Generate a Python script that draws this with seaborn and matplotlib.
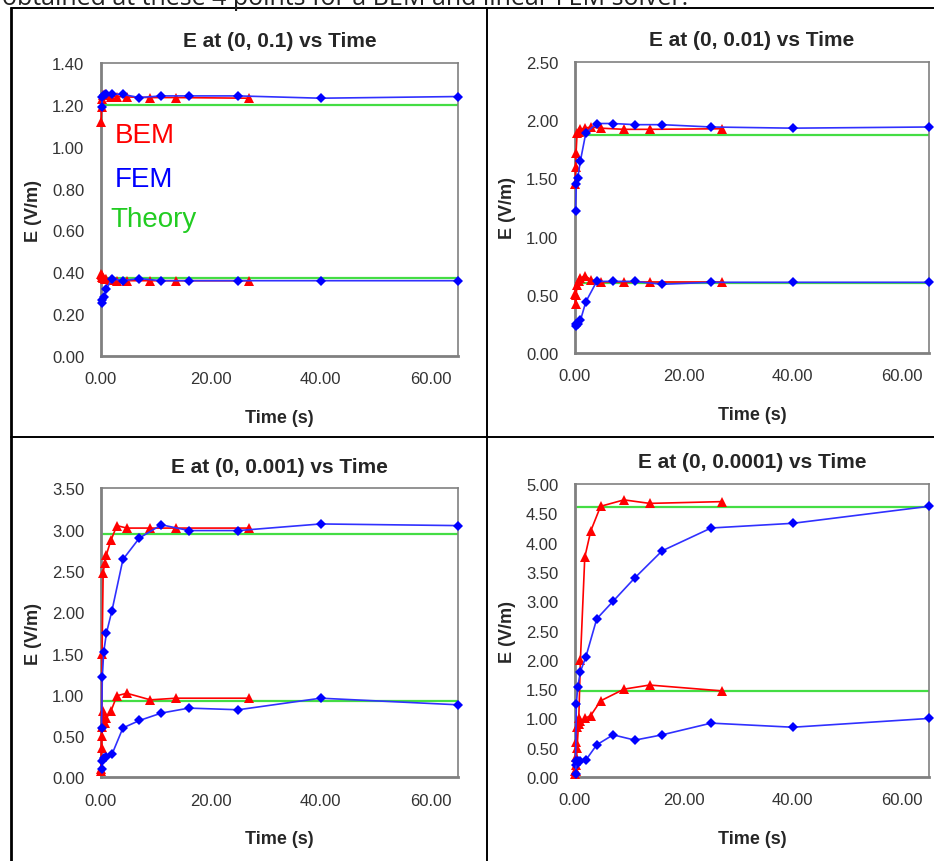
import pandas as pd
import matplotlib.pyplot as plt
import seaborn as sns
from matplotlib.lines import Line2D
from matplotlib.ticker import FormatStrFormatter, MultipleLocator

# sample times (s)
fem_t = [0.1, 0.25, 0.5, 1.0, 2.0, 4.0, 7.0, 11.0, 16.0, 25.0, 40.0, 65.0]
bem_t = [0.05, 0.1, 0.2, 0.4, 0.7, 1.0, 1.8, 2.9, 4.7, 9.0, 13.7, 27.0]
theory_t = [0.3, 65.0]

titles = ['E at (0, 0.1) vs Time', 'E at (0, 0.01) vs Time',
          'E at (0, 0.001) vs Time', 'E at (0, 0.0001) vs Time']
y_max = [1.4, 2.5, 3.5, 5.0]
y_step = [0.2, 0.5, 0.5, 0.5]

# point (0, 0.1)
fem_hi_1 = [1.19, 1.24, 1.245, 1.25, 1.252, 1.25, 1.235, 1.243, 1.243, 1.243, 1.232, 1.24]
fem_lo_1 = [0.255, 0.27, 0.28, 0.32, 0.37, 0.36, 0.37, 0.36, 0.36, 0.36, 0.36, 0.36]
bem_hi_1 = [1.12, 1.19, 1.23, 1.245, 1.25, 1.245, 1.24, 1.24, 1.238, 1.235, 1.235, 1.232]
bem_lo_1 = [0.39, 0.385, 0.38, 0.375, 0.37, 0.37, 0.365, 0.36, 0.36, 0.36, 0.36, 0.36]
theory_1 = [1.20, 0.375]

# point (0, 0.01)
fem_hi_2 = [1.22, 1.45, 1.50, 1.65, 1.89, 1.97, 1.97, 1.96, 1.96, 1.94, 1.93, 1.94]
fem_lo_2 = [0.23, 0.245, 0.25, 0.28, 0.44, 0.615, 0.615, 0.615, 0.59, 0.607, 0.607, 0.607]
bem_hi_2 = [1.45, 1.60, 1.72, 1.89, 1.90, 1.92, 1.93, 1.94, 1.93, 1.92, 1.92, 1.925]
bem_lo_2 = [0.51, 0.42, 0.50, 0.58, 0.62, 0.64, 0.665, 0.63, 0.61, 0.61, 0.61, 0.61]
theory_2 = [1.87, 0.60]

# point (0, 0.001)
fem_hi_3 = [0.6, 1.22, 1.52, 1.75, 2.02, 2.64, 2.9, 3.06, 2.99, 2.99, 3.07, 3.05]
fem_lo_3 = [0.1, 0.2, 0.24, 0.25, 0.28, 0.6, 0.69, 0.78, 0.84, 0.82, 0.96, 0.88]
bem_hi_3 = [0.1, 0.5, 1.5, 2.48, 2.6, 2.7, 2.87, 3.05, 3.02, 3.02, 3.02, 3.02]
bem_lo_3 = [0.08, 0.36, 0.61, 0.81, 0.66, 0.72, 0.80, 0.99, 1.02, 0.94, 0.96, 0.96]
theory_3 = [2.95, 0.92]

# point (0, 0.0001)
fem_hi_4 = [0.2, 1.25, 1.53, 1.8, 2.05, 2.7, 3.0, 3.4, 3.86, 4.25, 4.33, 4.62]
fem_lo_4 = [0.05, 0.27, 0.27, 0.28, 0.29, 0.55, 0.72, 0.63, 0.72, 0.92, 0.85, 1.0]
bem_hi_4 = [0.05, 0.1, 0.2, 0.5, 1.0, 2.0, 3.75, 4.2, 4.62, 4.73, 4.67, 4.7]
bem_lo_4 = [0.1, 0.35, 0.6, 0.85, 0.9, 0.95, 1.0, 1.05, 1.3, 1.5, 1.57, 1.47]
theory_4 = [4.6, 1.46]

panels = [
    (fem_hi_1, fem_lo_1, bem_hi_1, bem_lo_1, theory_1),
    (fem_hi_2, fem_lo_2, bem_hi_2, bem_lo_2, theory_2),
    (fem_hi_3, fem_lo_3, bem_hi_3, bem_lo_3, theory_3),
    (fem_hi_4, fem_lo_4, bem_hi_4, bem_lo_4, theory_4),
]

sns.set_style('white')
plt.rcParams['font.family'] = ['Liberation Sans', 'DejaVu Sans']

RED = '#ff0000'
BLUE = '#0000ff'
GREEN = '#44dd44'
GRAY = '#808080'

fig = plt.figure(figsize=(9.34, 8.62), dpi=100)
rects = [(0.1081, 0.5858, 0.3822, 0.3399),
         (0.6156, 0.5893, 0.3790, 0.3379),
         (0.1081, 0.0969, 0.3822, 0.3353),
         (0.6156, 0.0974, 0.3790, 0.3399)]

for i, (rect, data) in enumerate(zip(rects, panels)):
    ax = fig.add_axes(rect)
    fem_hi, fem_lo, bem_hi, bem_lo, theory = data

    for level in theory:
        sns.lineplot(x=theory_t, y=[level, level], ax=ax, color=GREEN,
                     linewidth=1.6, zorder=2)
    for vals in (bem_hi, bem_lo):
        sns.lineplot(x=bem_t, y=vals, ax=ax, color=RED, linewidth=1.2,
                     marker='^', markersize=7, markeredgewidth=0,
                     estimator=None, sort=False, zorder=3, clip_on=False)
    for vals in (fem_hi, fem_lo):
        sns.lineplot(x=fem_t, y=vals, ax=ax, color='#3030ff',
                     linewidth=1.2, marker='D', markersize=5,
                     markerfacecolor=BLUE, markeredgewidth=0,
                     estimator=None, sort=False, zorder=4, clip_on=False)

    ax.set_xlim(0, 65)
    ax.set_ylim(0, y_max[i])
    ax.xaxis.set_major_locator(MultipleLocator(20))
    ax.yaxis.set_major_locator(MultipleLocator(y_step[i]))
    ax.xaxis.set_major_formatter(FormatStrFormatter('%.2f'))
    ax.yaxis.set_major_formatter(FormatStrFormatter('%.2f'))
    ax.tick_params(axis='both', direction='out', length=4, width=1,
                   color='#555555', labelsize=12, labelcolor='#333333')
    ax.tick_params(axis='x', pad=7)
    ax.tick_params(axis='y', pad=8)

    for side in ['left', 'bottom']:
        ax.spines[side].set_color(GRAY)
        ax.spines[side].set_linewidth(2)
    for side in ['top', 'right']:
        ax.spines[side].set_color(GRAY)
        ax.spines[side].set_linewidth(1.2)

    ax.set_title(titles[i], fontsize=15, fontweight='bold', pad=12)
    ax.set_xlabel('Time (s)', fontsize=13, fontweight='bold')
    ax.set_ylabel('E (V/m)', fontsize=13, fontweight='bold')
    ax.xaxis.set_label_coords(0.5, -0.21)
    ax.xaxis.label.set_va('center')
    ax.yaxis.set_label_coords(-0.19, 0.5)
    ax.yaxis.label.set_va('center')

    if i == 0:
        ax.text(0.039, 0.730, 'BEM', color=RED, fontsize=20,
                transform=ax.transAxes, va='baseline')
        ax.text(0.039, 0.580, 'FEM', color=BLUE, fontsize=20,
                transform=ax.transAxes, va='baseline')
        ax.text(0.025, 0.444, 'Theory', color='#22cc22', fontsize=20,
                transform=ax.transAxes, va='baseline')

# table borders around the four charts
W, H = 934, 862
for x0, y0, x1, y1 in [(11, 9, 11, 862), (11, 9, 934, 9),
                       (487, 9, 487, 862), (11, 438, 934, 438)]:
    fig.add_artist(Line2D([x0 / W, x1 / W], [1 - y0 / H, 1 - y1 / H],
                          transform=fig.transFigure, color='black',
                          linewidth=2 if x0 == x1 == 11 else 1.4))

# caption line of the surrounding document, cut by the top edge
fig.text(0.002, 1 - 5 / H, 'obtained at these 4 points for a BEM and linear FEM solver.',
         fontsize=18, family=['Open Sans', 'DejaVu Sans'], va='baseline',
         ha='left', color='#222222')

fig.savefig('out.png', dpi=100)
